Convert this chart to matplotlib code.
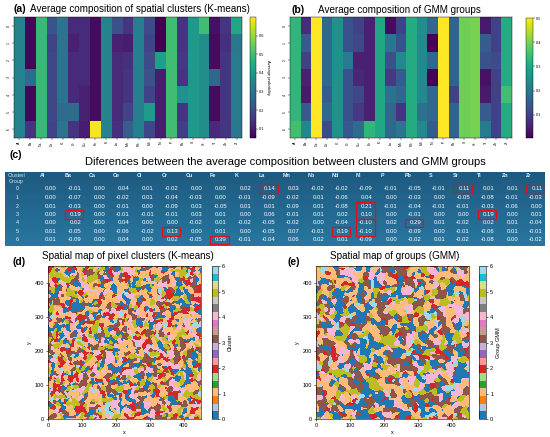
import numpy as np
import matplotlib
matplotlib.use('Agg')
import matplotlib.pyplot as plt
from matplotlib.patches import Rectangle
from matplotlib.colors import LinearSegmentedColormap

plt.rcParams['font.family'] = ['Liberation Sans', 'DejaVu Sans']

W, H = 550, 437

elements = ['Al', 'Ba', 'Ca', 'Ce', 'Cl', 'Cr', 'Cu', 'Fe', 'K', 'La', 'Mn',
            'Nb', 'Nd', 'Ni', 'P', 'Pb', 'S', 'Sr', 'Ti', 'Zn', 'Zr']
groups = ['0', '1', '2', '3', '4', '5', '6']

# (a) average composition of K-means clusters (rows = cluster 0..6)
kmeans_comp = np.array([
    [0.34, 0.06, 0.49, 0.22, 0.30, 0.13, 0.13, 0.07, 0.34, 0.21, 0.15, 0.33, 0.20, 0.05, 0.50, 0.15, 0.40, 0.50, 0.08, 0.15, 0.44],
    [0.34, 0.06, 0.49, 0.18, 0.30, 0.11, 0.13, 0.07, 0.34, 0.11, 0.10, 0.33, 0.18, 0.05, 0.50, 0.15, 0.40, 0.37, 0.07, 0.14, 0.31],
    [0.34, 0.06, 0.49, 0.19, 0.30, 0.13, 0.13, 0.07, 0.34, 0.13, 0.14, 0.33, 0.20, 0.42, 0.50, 0.16, 0.40, 0.37, 0.07, 0.15, 0.32],
    [0.34, 0.28, 0.49, 0.19, 0.30, 0.13, 0.13, 0.07, 0.34, 0.13, 0.15, 0.33, 0.21, 0.10, 0.50, 0.15, 0.40, 0.37, 0.27, 0.15, 0.32],
    [0.34, 0.06, 0.49, 0.19, 0.30, 0.13, 0.11, 0.07, 0.34, 0.13, 0.15, 0.33, 0.18, 0.10, 0.50, 0.38, 0.40, 0.37, 0.07, 0.15, 0.32],
    [0.34, 0.06, 0.49, 0.19, 0.28, 0.28, 0.11, 0.07, 0.34, 0.13, 0.18, 0.33, 0.41, 0.10, 0.50, 0.15, 0.40, 0.37, 0.07, 0.15, 0.32],
    [0.34, 0.15, 0.49, 0.18, 0.30, 0.15, 0.10, 0.69, 0.34, 0.14, 0.25, 0.33, 0.19, 0.10, 0.50, 0.17, 0.40, 0.37, 0.13, 0.15, 0.31],
])

# (b) average composition of GMM groups
gmm_comp = np.array([
    [0.33, 0.07, 0.50, 0.17, 0.26, 0.13, 0.10, 0.05, 0.30, 0.02, 0.10, 0.31, 0.25, 0.17, 0.50, 0.16, 0.39, 0.40, 0.04, 0.10, 0.31],
    [0.33, 0.15, 0.50, 0.17, 0.26, 0.13, 0.11, 0.05, 0.30, 0.20, 0.13, 0.31, 0.24, 0.01, 0.50, 0.16, 0.39, 0.40, 0.15, 0.10, 0.31],
    [0.33, 0.10, 0.50, 0.17, 0.26, 0.21, 0.05, 0.05, 0.30, 0.13, 0.24, 0.31, 0.24, 0.17, 0.50, 0.16, 0.39, 0.40, 0.13, 0.12, 0.31],
    [0.33, 0.05, 0.50, 0.17, 0.26, 0.13, 0.06, 0.05, 0.30, 0.09, 0.15, 0.31, 0.24, 0.01, 0.50, 0.16, 0.39, 0.40, 0.03, 0.10, 0.31],
    [0.33, 0.04, 0.50, 0.15, 0.26, 0.13, 0.11, 0.05, 0.30, 0.19, 0.17, 0.31, 0.24, 0.17, 0.50, 0.10, 0.39, 0.40, 0.04, 0.10, 0.35],
    [0.33, 0.15, 0.50, 0.17, 0.26, 0.13, 0.09, 0.05, 0.30, 0.17, 0.08, 0.31, 0.19, 0.17, 0.50, 0.16, 0.39, 0.40, 0.15, 0.10, 0.31],
    [0.35, 0.23, 0.50, 0.12, 0.26, 0.14, 0.18, 0.33, 0.30, 0.17, 0.20, 0.31, 0.24, 0.15, 0.50, 0.16, 0.39, 0.40, 0.21, 0.10, 0.31],
])

# (c) difference table
diff_table = [
    ['0.00', '-0.01', '0.00', '0.04', '0.01', '-0.02', '0.00', '0.00', '0.02', '0.14', '0.03', '-0.02', '-0.02', '-0.09', '-0.01', '-0.05', '-0.01', '0.11', '0.01', '0.01', '0.11'],
    ['0.00', '-0.07', '0.00', '-0.02', '0.01', '-0.04', '-0.03', '0.00', '-0.01', '-0.09', '-0.02', '0.01', '-0.06', '0.04', '0.00', '-0.03', '0.00', '-0.05', '-0.08', '-0.01', '-0.03'],
    ['0.01', '-0.03', '0.00', '-0.01', '0.00', '-0.09', '0.03', '-0.05', '0.01', '0.01', '-0.09', '0.01', '-0.08', '0.21', '-0.01', '-0.04', '-0.01', '-0.01', '-0.03', '-0.06', '0.00'],
    ['0.00', '0.19', '0.00', '-0.01', '-0.01', '-0.01', '0.03', '0.01', '0.00', '0.06', '-0.01', '0.01', '0.02', '0.10', '0.00', '-0.01', '0.00', '0.00', '0.19', '0.00', '0.01'],
    ['0.00', '0.02', '0.00', '0.04', '0.00', '0.00', '-0.02', '0.01', '-0.02', '-0.05', '-0.02', '0.00', '-0.04', '-0.10', '0.02', '0.29', '0.01', '-0.02', '0.02', '0.01', '-0.04'],
    ['0.01', '-0.05', '0.00', '-0.06', '-0.02', '0.13', '0.00', '0.01', '0.00', '-0.05', '0.07', '-0.01', '0.19', '-0.10', '0.00', '-0.09', '0.00', '-0.01', '-0.06', '0.01', '-0.01'],
    ['0.01', '-0.09', '0.00', '0.04', '0.00', '0.02', '-0.05', '0.39', '-0.01', '-0.04', '0.06', '0.02', '0.01', '-0.09', '0.00', '-0.02', '0.01', '-0.02', '-0.08', '0.00', '-0.02'],
]
# highlighted cells: (first row, last row, element)
highlights = [(0, 0, 'La'), (0, 0, 'Sr'), (0, 0, 'Zr'), (3, 3, 'Ba'), (5, 5, 'Cr'),
              (6, 6, 'Fe'), (2, 3, 'Ni'), (4, 5, 'Ni'), (5, 5, 'Nd'), (4, 4, 'Pb'),
              (3, 3, 'Ti')]

# share of pixels per label (clusters 0..6) estimated from the maps
kmeans_frac = [0.15, 0.26, 0.12, 0.14, 0.14, 0.15, 0.03]
gmm_frac = [0.22, 0.23, 0.06, 0.19, 0.13, 0.13, 0.04]
map_size = 450


def px_rect(x0, y0, x1, y1):
    return [x0 / W, 1 - y1 / H, (x1 - x0) / W, (y1 - y0) / H]


def ftext(x, y, s, **kw):
    fig.text(x / W, 1 - y / H, s, va='center', **kw)


# pixel label map: the map itself cannot be read cell by cell, so a smooth
# texture is built with the label shares above
def label_map(frac, sigma, seed):
    rng = np.random.default_rng(seed)
    k = np.fft.fftfreq(map_size)
    g = np.exp(-2 * (np.pi * sigma) ** 2 * (k[:, None] ** 2 + k[None, :] ** 2))
    fields = []
    for _ in frac:
        f = np.real(np.fft.ifft2(np.fft.fft2(rng.standard_normal((map_size, map_size))) * g))
        fields.append(f / f.std())
    fields = np.array(fields)
    bias = np.zeros(len(frac))
    for _ in range(80):
        lab = np.argmax(fields + bias[:, None, None], axis=0)
        got = np.array([(lab == i).mean() for i in range(len(frac))]) + 1e-4
        bias += 0.4 * (np.log(frac) - np.log(got))
    return np.argmax(fields + bias[:, None, None], axis=0)


fig = plt.figure(figsize=(W / 100, H / 100), dpi=100)


def heatmap(rect, cb_rect, data, vmin, vmax, ticks, label=None):
    ax = fig.add_axes(px_rect(*rect))
    im = ax.imshow(data, cmap='viridis', aspect='auto', vmin=vmin, vmax=vmax,
                   interpolation='nearest')
    ax.set_xticks(range(len(elements)))
    ax.set_xticklabels(elements, rotation=90, fontsize=2.5)
    ax.set_yticks(range(len(groups)))
    ax.set_yticklabels(groups, rotation=90, fontsize=2.5, va='center')
    ax.tick_params(length=1.2, width=0.3, pad=1)
    for s in ax.spines.values():
        s.set_linewidth(0.3)
    cax = fig.add_axes(px_rect(*cb_rect))
    cb = fig.colorbar(im, cax=cax, ticks=ticks)
    cb.ax.tick_params(labelsize=2.8, length=1.2, width=0.3, pad=1)
    cb.outline.set_linewidth(0.3)
    if label:
        cb.set_label(label, fontsize=3, rotation=270, labelpad=4)


heatmap((14, 17, 242, 138), (250, 17, 256, 138), kmeans_comp, 0.05, 0.70,
        [0.1, 0.2, 0.3, 0.4, 0.5, 0.6], 'Average probability')
heatmap((290, 17, 512, 138), (526, 18, 533, 138), gmm_comp, 0.005, 0.50,
        [0.1, 0.2, 0.3, 0.4, 0.5])

ftext(13, 9, '(a)', fontsize=7.6, fontweight='bold')
ftext(30, 9, 'Average composition of spatial clusters (K-means)', fontsize=7.1)
ftext(292, 10, '(b)', fontsize=7.6, fontweight='bold')
ftext(318, 10, 'Average composition of GMM groups', fontsize=7.1)
ftext(10, 155, '(c)', fontsize=7.6, fontweight='bold')
ftext(285, 162, 'Diferences between the average composition between clusters and GMM groups',
      fontsize=8, ha='center')

# table (c)
axt = fig.add_axes(px_rect(5, 172, 545, 246))
axt.set_xlim(5, 545)
axt.set_ylim(246, 172)
axt.axis('off')
grad = LinearSegmentedColormap.from_list('tbl', ['#1e5a80', '#2877a0'])
axt.imshow(np.linspace(0, 1, 50)[:, None], cmap=grad, aspect='auto',
           extent=(5, 545, 246, 172), zorder=0)
col0, colw = 35, 24.3
row0, rowh = 189, 8.5
axt.text(8, 175.5, 'Cluster/', color='#d8e6f0', fontsize=3.8, va='center')
axt.text(9, 181.5, 'Group', color='#d8e6f0', fontsize=3.8, va='center')
for j, el in enumerate(elements):
    axt.text(col0 + j * colw + 5, 175.5, el, color='#e8f0f6', fontsize=3.9,
             va='center', fontweight='bold')
for i, row in enumerate(diff_table):
    y = row0 + i * rowh
    axt.text(17, y, groups[i], color='#e8f0f6', fontsize=3.9, va='center', ha='center')
    for j, v in enumerate(row):
        axt.text(col0 + (j + 1) * colw - 2.5, y, v, color='white', fontsize=4.3,
                 va='center', ha='right')
for r0, r1, el in highlights:
    j = elements.index(el)
    xr = col0 + (j + 1) * colw - 0.5
    axt.add_patch(Rectangle((xr - 18.5, row0 + r0 * rowh - 4.2), 18.5, (r1 - r0) * rowh + 8.4,
                            fill=False, edgecolor='#e0101a', linewidth=0.9, zorder=5))


def cluster_map(rect, cb_rect, labels, label):
    ax = fig.add_axes(px_rect(*rect))
    im = ax.imshow(labels, cmap='tab20', vmin=0, vmax=6, origin='lower',
                   extent=(0, map_size, 0, map_size), interpolation='nearest')
    ax.set_xticks([0, 100, 200, 300, 400])
    ax.set_yticks([0, 100, 200, 300, 400])
    ax.tick_params(labelsize=4, length=1.5, width=0.4, pad=1.5)
    ax.set_xlabel('x', fontsize=4, labelpad=1.5)
    ax.set_ylabel('y', fontsize=4, labelpad=1.5)
    for s in ax.spines.values():
        s.set_linewidth(0.4)
    cax = fig.add_axes(px_rect(*cb_rect))
    cb = fig.colorbar(im, cax=cax, ticks=range(7))
    cb.ax.tick_params(labelsize=4, length=1.5, width=0.4, pad=1.5)
    cb.outline.set_linewidth(0.4)
    cb.set_label(label, fontsize=4, labelpad=2)


cluster_map((47, 266, 202, 419), (212, 266, 218, 419),
            label_map(kmeans_frac, 5.0, 7), 'Cluster')
cluster_map((315, 266, 470, 419), (479, 266, 486, 419),
            label_map(gmm_frac, 6.5, 11), 'Group GMM')

ftext(12, 262, '(d)', fontsize=7.6, fontweight='bold')
ftext(42, 256, 'Spatial map of pixel clusters (K-means)', fontsize=7.1)
ftext(287, 262, '(e)', fontsize=7.6, fontweight='bold')
ftext(330, 256, 'Spatial map of groups (GMM)', fontsize=7.1)

fig.savefig('out.png', dpi=100)
